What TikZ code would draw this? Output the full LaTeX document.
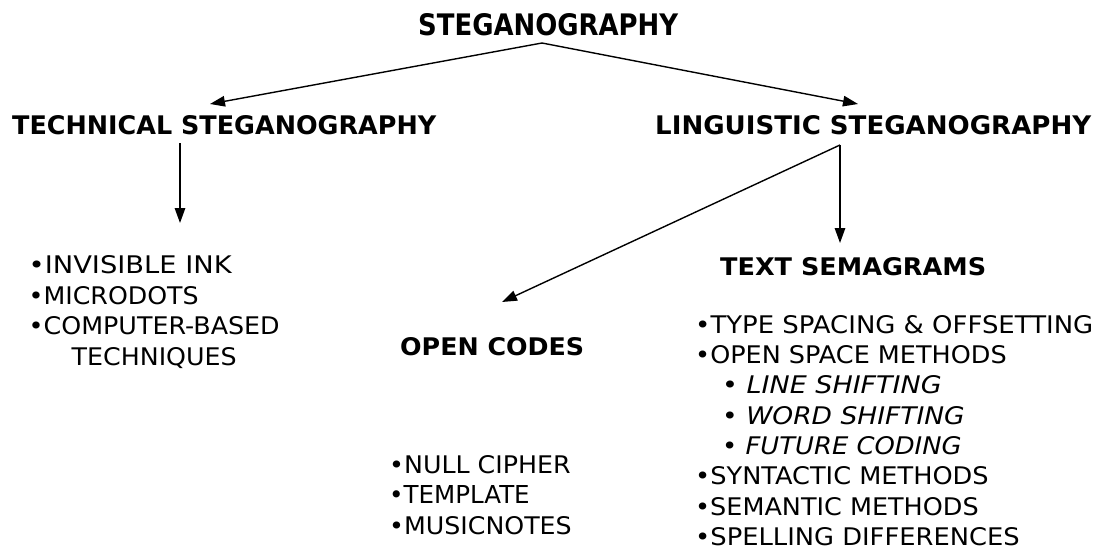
\documentclass[tikz,border=0pt]{standalone}
\usepackage{graphicx}
\usepackage{fontspec}
\setmainfont{DejaVu Sans}
\usetikzlibrary{arrows.meta}
\tikzset{
  item/.style={anchor=base west, inner sep=0pt, font=\fontsize{24}{30}\selectfont},
  head/.style={anchor=base west, inner sep=0pt},
  conn/.style={line width=1.4pt, -{Triangle[length=15pt,width=10.5pt]}},
}
\newcommand\fitbox[3]{\resizebox{#1pt}{#2pt}{#3}}
\begin{document}
\begin{tikzpicture}[x=1pt,y=-1pt]
\useasboundingbox (0,0) rectangle (1100,552);
% headings
\node[head] (steg) at (418,35) {\fitbox{260}{22}{\bfseries STEGANOGRAPHY}};
\node[head] (tech) at (12,134.5) {\fitbox{424}{19}{\bfseries TECHNICAL STEGANOGRAPHY}};
\node[head] (ling) at (655,134.5) {\fitbox{436}{19}{\bfseries LINGUISTIC STEGANOGRAPHY}};
\node[head] (sem) at (720,275) {\fitbox{266}{18}{\bfseries TEXT SEMAGRAMS}};
\node[head] (open) at (400,355) {\fitbox{184}{18}{\bfseries OPEN CODES}};
% left list
\node[item] (l1) at (28.5,273) {\fitbox{203}{18}{•INVISIBLE INK}};
\node[item] (l2) at (28.5,304) {\fitbox{170}{18}{•MICRODOTS}};
\node[item] (l3) at (28.5,334.5) {\fitbox{251}{18}{•COMPUTER-BASED}};
\node[item] (l4) at (71.5,365) {\fitbox{165}{18}{TECHNIQUES}};
% bottom list
\node[item] (b1) at (389,473) {\fitbox{181.5}{18}{•NULL CIPHER}};
\node[item] (b2) at (389,503.5) {\fitbox{140.5}{18}{•TEMPLATE}};
\node[item] (b3) at (389,534) {\fitbox{182.5}{18}{•MUSICNOTES}};
% right list
\node[item] (r1) at (695,333) {\fitbox{398}{18}{•TYPE SPACING \& OFFSETTING}};
\node[item] (r2) at (695,363.3) {\fitbox{311.5}{18}{•OPEN SPACE METHODS}};
\node[item] (r3) at (722,393.6) {\fitbox{219.5}{18}{•~\textit{LINE SHIFTING}}};
\node[item] (r4) at (722,424) {\fitbox{242.5}{18}{•~\textit{WORD SHIFTING}}};
\node[item] (r5) at (722,454.3) {\fitbox{239.5}{18}{•~\textit{FUTURE CODING}}};
\node[item] (r6) at (695,484.6) {\fitbox{293.5}{18}{•SYNTACTIC METHODS}};
\node[item] (r7) at (695,515) {\fitbox{283.5}{18}{•SEMANTIC METHODS}};
\node[item] (r8) at (695,545.3) {\fitbox{324.5}{18}{•SPELLING DIFFERENCES}};
% connector ends
\coordinate (apex) at (542,43);
\coordinate (tL) at (210,104);
\coordinate (tR) at (858,104);
\coordinate (techS) at (180,143);
\coordinate (techE) at (180,223);
\coordinate (lingS) at (840,145);
\coordinate (semE) at (840,243);
\coordinate (openE) at (502,302);
% connectors
\draw[conn] (apex) -- (tL);
\draw[conn] (apex) -- (tR);
\draw[conn] (techS) -- (techE);
\draw[conn] (lingS) -- (semE);
\draw[conn] (lingS) -- (openE);
\end{tikzpicture}
\end{document}
